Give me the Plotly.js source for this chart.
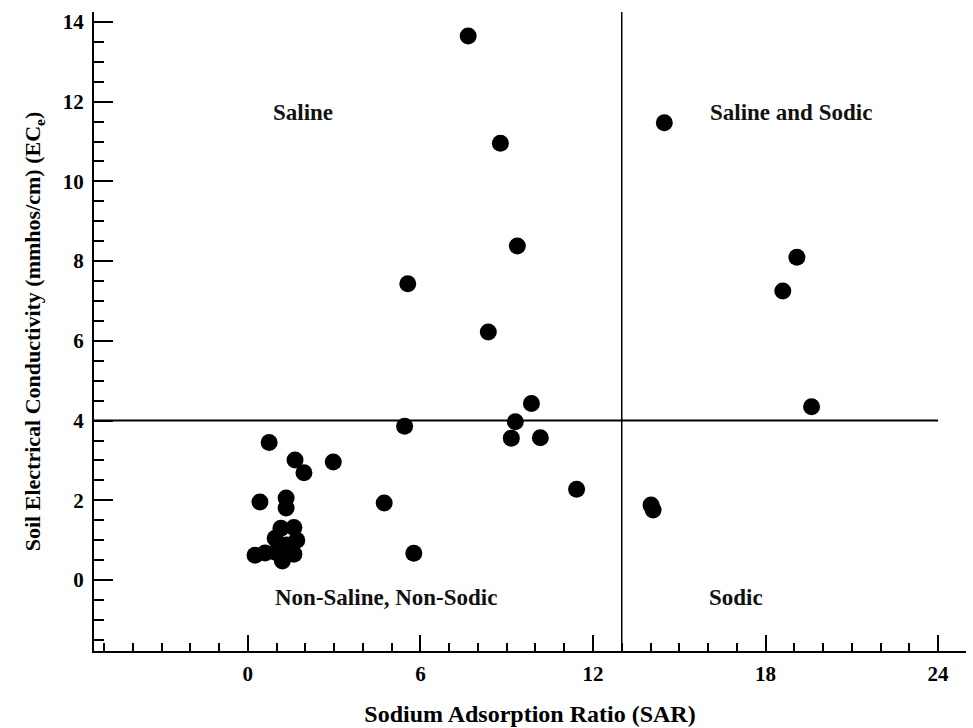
<!DOCTYPE html>
<html>
<head>
<meta charset="utf-8">
<script src="https://cdn.plot.ly/plotly-3.0.1.min.js"></script>
<style>html,body{margin:0;padding:0;background:#fff;}#chart{width:973px;height:728px;}</style>
</head>
<body>
<div id="chart"></div>
<script>
// Sodium Adsorption Ratio (SAR) of each sample
const sar = [7.66, 14.48, 8.78, 9.37, 19.09, 5.56, 18.60, 8.36, 9.86, 19.60,
             5.45, 9.30, 9.16, 10.17, 0.74, 1.64, 1.95, 2.97, 11.43, 4.74,
             0.42, 1.33, 1.33, 14.02, 14.09, 5.77,
             0.25, 0.60, 0.95, 1.20, 1.60, 0.95, 1.70, 1.15, 1.60, 1.35];
// Soil electrical conductivity ECe (mmhos/cm) of each sample
const ec  = [13.65, 11.47, 10.96, 8.38, 8.10, 7.43, 7.25, 6.22, 4.43, 4.35,
             3.86, 3.97, 3.56, 3.57, 3.45, 3.01, 2.69, 2.96, 2.28, 1.93,
             1.96, 2.06, 1.81, 1.88, 1.76, 0.67,
             0.62, 0.68, 0.70, 0.48, 0.65, 1.05, 1.00, 1.30, 1.32, 0.88];

// Classification thresholds
const sarThreshold = 13;
const ecThreshold = 4;

// Region labels
const regionNames = ["Saline", "Saline and Sodic", "Non-Saline, Non-Sodic", "Sodic"];
const regionSar   = [1.92, 18.9, 4.8, 16.96];
const regionEc    = [11.74, 11.74, -0.45, -0.45];

// Axis ticks
const xTicks = [0, 6, 12, 18, 24];
const yTicks = [0, 2, 4, 6, 8, 10, 12, 14];

const xRange = [-5.35, 24.97];
const yRange = [-1.78, 14.25];

const serif = "Liberation Serif, Times New Roman, serif";

const trace = {
  x: sar, y: ec, type: "scatter", mode: "markers",
  marker: {color: "#000", size: 17, line: {width: 0}},
  hoverinfo: "x+y", showlegend: false
};

const layout = {
  width: 973, height: 728,
  margin: {l: 94, r: 7, t: 12, b: 77},
  paper_bgcolor: "#fff", plot_bgcolor: "#fff",
  font: {family: serif, color: "#000"},
  showlegend: false,
  xaxis: {
    range: xRange, tickvals: xTicks, ticktext: xTicks.map(String),
    ticks: "inside", ticklen: 16, tickwidth: 2, tickcolor: "#000",
    minor: {dtick: 1, tick0: 0, ticks: "inside", ticklen: 8, tickwidth: 2, tickcolor: "#000", showgrid: false},
    showline: true, linewidth: 2, linecolor: "#000", mirror: false,
    showgrid: false, zeroline: false,
    tickfont: {family: serif, size: 21, color: "#000", weight: "bold"},
    ticklabelstandoff: 3,
    title: {text: "<b>Sodium Adsorption Ratio (SAR)</b>", font: {family: serif, size: 24, color: "#000"}, standoff: 20}
  },
  yaxis: {
    range: yRange, tickvals: yTicks, ticktext: yTicks.map(String),
    ticks: "inside", ticklen: 19, tickwidth: 2, tickcolor: "#000",
    minor: {dtick: 0.5, tick0: 0, ticks: "inside", ticklen: 10, tickwidth: 2, tickcolor: "#000", showgrid: false},
    showline: true, linewidth: 2, linecolor: "#000", mirror: false,
    showgrid: false, zeroline: false,
    tickfont: {family: serif, size: 21, color: "#000", weight: "bold"},
    ticklabelstandoff: 4,
    title: {text: "<b>Soil Electrical Conductivity (mmhos/cm) (EC<sub>e</sub>)</b>", font: {family: serif, size: 22, color: "#000"}, standoff: 16}
  },
  shapes: [
    {type: "line", xref: "x", yref: "y", x0: xRange[0], x1: 24, y0: ecThreshold, y1: ecThreshold, line: {color: "#000", width: 2}},
    {type: "line", xref: "x", yref: "y", x0: sarThreshold, x1: sarThreshold, y0: yRange[0], y1: yRange[1], line: {color: "#000", width: 1.5}}
  ],
  annotations: regionNames.map((t, i) => ({
    x: regionSar[i], y: regionEc[i], xref: "x", yref: "y",
    text: "<b>" + t + "</b>", showarrow: false,
    font: {family: serif, size: 23, color: "#111"},
    xanchor: "center", yanchor: "middle"
  }))
};

Plotly.newPlot("chart", [trace], layout, {displayModeBar: false, staticPlot: true});
</script>
</body>
</html>
